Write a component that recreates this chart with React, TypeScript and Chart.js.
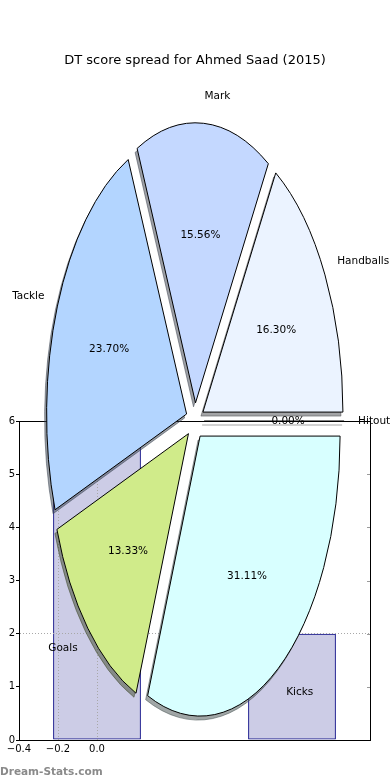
import React, { useEffect, useRef } from 'react';
import { Chart, registerables } from 'chart.js';

Chart.register(...registerables);

// ---- data ----
const categories = ['Hitout', 'Handballs', 'Mark', 'Tackle', 'Goals', 'Kicks'];
const dtPoints = [0, 22, 21, 32, 18, 42];
const sliceColors = ['#ffffff', '#ebf3ff', '#c4d8ff', '#b3d5ff', '#d0eb8a', '#d8ffff'];

const barPositions = [0, 1];
const barValues = [6, 2];
const barLabels = ['Goals', 'Kicks'];

const xTickValues = [-0.4, -0.2, 0.0];
const xTickLabels = ['\u22120.4', '\u22120.2', '0.0'];
const xGridValues = [-0.2, 0.0];
const yGridValues = [2];
const yInnerTickValues = [1, 2, 3, 4, 5];

const titleText = 'DT score spread for Ahmed Saad (2015)';
const watermarkText = 'Dream-Stats.com';

// ---- style constants ----
const FONT = "'DejaVu Sans', 'Liberation Sans', sans-serif";
const PIE_RATIO = 2; // vertical stretch of the pie
const EXPLODE = 9.1; // px (unstretched)
const PIE_RADIUS = 140;
const SHADOW_DX = -2;
const SHADOW_DY = 4;
const LABEL_DIST = 1.1;
const PCT_DIST = 0.6;
const TEXT_DY = 0.5;

function shadowColor(hex: string) {
  const n = parseInt(hex.slice(1), 16);
  const r = ((n >> 16) & 255) * 0.3;
  const g = ((n >> 8) & 255) * 0.3;
  const b = (n & 255) * 0.3;
  return `rgba(${Math.round(r)},${Math.round(g)},${Math.round(b)},0.5)`;
}

const order = categories.map((_, i) => categories.length - 1 - i);
const pieLabels = order.map((i) => categories[i]);
const pieData = order.map((i) => dtPoints[i]);
const pieColors = order.map((i) => sliceColors[i]);
const total = dtPoints.reduce((a, b) => a + b, 0);

const ellipsePiePlugin = {
  id: 'ellipsePie',
  beforeDatasetsDraw(chart: any) {
    const ctx: CanvasRenderingContext2D = chart.ctx;
    const meta = chart.getDatasetMeta(0);
    const arcs = meta.data;
    if (!arcs.length) return false;
    const cx = arcs[0].x;
    const cy = arcs[0].y;
    const dpr = chart.currentDevicePixelRatio || 1;
    const proto = CanvasRenderingContext2D.prototype;
    (ctx as any).stroke = function (...args: any[]) {
      this.save();
      this.setTransform(dpr, 0, 0, dpr, 0, 0);
      (proto.stroke as any).apply(this, args);
      this.restore();
    };
    ['shadow', 'main'].forEach((pass) => {
      arcs.forEach((el: any, i: number) => {
        const mid = (el.startAngle + el.endAngle) / 2;
        ctx.save();
        if (pass === 'shadow') ctx.translate(SHADOW_DX, SHADOW_DY);
        ctx.translate(cx, cy);
        ctx.scale(1, PIE_RATIO);
        ctx.translate(-cx, -cy);
        ctx.translate(Math.cos(mid) * EXPLODE, Math.sin(mid) * EXPLODE);
        const sc = shadowColor(pieColors[i]);
        if (el.circumference === 0) {
          ctx.beginPath();
          ctx.moveTo(cx, cy);
          ctx.lineTo(cx + Math.cos(mid) * el.outerRadius, cy + Math.sin(mid) * el.outerRadius);
          ctx.lineWidth = 1;
          ctx.strokeStyle = pass === 'shadow' ? sc : '#000';
          ctx.stroke();
        } else if (pass === 'shadow') {
          const saved = el.options;
          el.options = { ...saved, backgroundColor: sc, borderColor: sc };
          el.draw(ctx);
          el.options = saved;
        } else {
          el.draw(ctx);
        }
        ctx.restore();
      });
    });
    delete (ctx as any).stroke;
    return false;
  },
  afterDraw(chart: any) {
    const ctx: CanvasRenderingContext2D = chart.ctx;
    const meta = chart.getDatasetMeta(0);
    const arcs = meta.data;
    ctx.save();
    ctx.fillStyle = '#000';
    ctx.font = `13px ${FONT}`;
    ctx.textAlign = 'center';
    ctx.textBaseline = 'middle';
    ctx.fillText(titleText, chart.width / 2, 61);

    ctx.font = `10.5px ${FONT}`;
    arcs.forEach((el: any, i: number) => {
      const cx = el.x;
      const cy = el.y;
      const R = el.outerRadius;
      const mid = (el.startAngle + el.endAngle) / 2;
      const c = Math.cos(mid);
      const s = Math.sin(mid);
      const sx = cx + c * EXPLODE;
      const sy = cy + s * EXPLODE * PIE_RATIO;
      const lx = sx + LABEL_DIST * R * c;
      const ly = sy + LABEL_DIST * R * s * PIE_RATIO;
      ctx.textAlign = lx - cx > 0 ? 'left' : 'right';
      ctx.fillText(pieLabels[i], lx, ly + TEXT_DY);
      const px = sx + PCT_DIST * R * c;
      const py = sy + PCT_DIST * R * s * PIE_RATIO;
      ctx.textAlign = 'center';
      ctx.fillText(((pieData[i] / total) * 100).toFixed(2) + '%', px, py + TEXT_DY);
    });

    ctx.font = `bold 10.5px ${FONT}`;
    ctx.fillStyle = '#8a8a8a';
    ctx.textAlign = 'left';
    ctx.textBaseline = 'alphabetic';
    ctx.fillText(watermarkText, 0, 775);
    ctx.restore();
  },
};

const spinesPlugin = {
  id: 'spines',
  afterDraw(chart: any) {
    const { ctx, chartArea } = chart;
    const y = chart.scales.y;
    ctx.save();
    ctx.strokeStyle = '#000';
    ctx.lineWidth = 1;
    ctx.beginPath();
    ctx.moveTo(chartArea.left, Math.round(chartArea.top) + 0.5);
    ctx.lineTo(chartArea.right + 1, Math.round(chartArea.top) + 0.5);
    ctx.moveTo(Math.round(chartArea.right) + 0.5, chartArea.top);
    ctx.lineTo(Math.round(chartArea.right) + 0.5, chartArea.bottom + 1);
    ctx.stroke();
    ctx.strokeStyle = '#9a9a9a';
    ctx.beginPath();
    yInnerTickValues.forEach((v) => {
      const py = Math.round(y.getPixelForValue(v)) + 0.5;
      ctx.moveTo(chartArea.right - 3, py);
      ctx.lineTo(chartArea.right, py);
    });
    ctx.stroke();
    ctx.restore();
  },
};

export default function App() {
  const barRef = useRef<HTMLCanvasElement>(null);
  const pieRef = useRef<HTMLCanvasElement>(null);

  useEffect(() => {
    Chart.defaults.font.family = FONT;
    Chart.defaults.color = '#000';
    const inList = (list: number[], v: number) => list.some((x) => Math.abs(x - v) < 1e-6);

    const bar = new Chart(barRef.current!, {
      type: 'bar',
      data: {
        datasets: [
          {
            label: 'bars',
            data: barPositions.map((x, i) => ({ x, y: barValues[i] })) as any,
            backgroundColor: 'rgba(0,0,128,0.2)',
            borderColor: '#000080',
            borderWidth: 1,
            borderSkipped: false,
            barPercentage: 2.25,
            categoryPercentage: 1,
          } as any,
        ],
      },
      options: {
        responsive: false,
        animation: false,
        events: [],
        layout: { padding: { top: 421, right: 20, left: 0, bottom: 0 } },
        plugins: { legend: { display: false }, tooltip: { enabled: false }, title: { display: false } },
        scales: {
          x: {
            type: 'linear',
            offset: false,
            min: -0.4,
            max: 1.4,
            ticks: {
              stepSize: 0.2,
              autoSkip: false,
              maxRotation: 0,
              padding: 3,
              font: { size: 10 },
              color: '#000',
              callback: (v: any) => {
                const idx = xTickValues.findIndex((t) => Math.abs(t - Number(v)) < 1e-6);
                return idx >= 0 ? xTickLabels[idx] : '';
              },
            },
            grid: {
              offset: false,
              drawTicks: false,
              z: 1,
              lineWidth: 1,
              color: (c: any) => (c.tick && inList(xGridValues, c.tick.value) ? '#a8a8a8' : 'rgba(0,0,0,0)'),
            },
            border: { display: true, color: '#000', width: 1, dash: [1, 2], z: 1 },
            afterFit: (s: any) => {
              s.height = 40;
            },
          },
          y: {
            min: 0,
            max: 6,
            ticks: { stepSize: 1, padding: 1, font: { size: 10 }, color: '#000' },
            grid: {
              drawTicks: true,
              tickLength: 3,
              tickColor: '#000',
              z: 1,
              lineWidth: 1,
              color: (c: any) => (c.tick && inList(yGridValues, c.tick.value) ? '#a8a8a8' : 'rgba(0,0,0,0)'),
            },
            border: { display: true, color: '#000', width: 1, dash: [1, 2], z: 1 },
            afterFit: (s: any) => {
              s.width = 19;
            },
          },
        },
      } as any,
      plugins: [spinesPlugin],
    });

    const pie = new Chart(pieRef.current!, {
      type: 'pie',
      data: {
        labels: pieLabels,
        datasets: [
          {
            data: pieData,
            backgroundColor: pieColors,
            borderColor: '#000',
            borderWidth: 1,
            borderJoinStyle: 'miter',
            clip: false,
          } as any,
        ],
      },
      options: {
        responsive: false,
        animation: false,
        events: [],
        rotation: 90,
        radius: PIE_RADIUS,
        layout: { padding: { top: 121, bottom: 59, left: 0, right: 0 } },
        plugins: { legend: { display: false }, tooltip: { enabled: false }, title: { display: false } },
      } as any,
      plugins: [ellipsePiePlugin],
    });

    return () => {
      bar.destroy();
      pie.destroy();
    };
  }, []);

  return (
    <div style={{ position: 'fixed', left: 0, top: 0, width: 390, height: 780, background: '#fff' }}>
      <canvas ref={barRef} width={390} height={780} style={{ position: 'absolute', left: 0, top: 0 }} />
      <canvas ref={pieRef} width={390} height={780} style={{ position: 'absolute', left: 0, top: 0 }} />
      <span style={{ display: 'none' }}>{barLabels.join(',')}</span>
    </div>
  );
}
